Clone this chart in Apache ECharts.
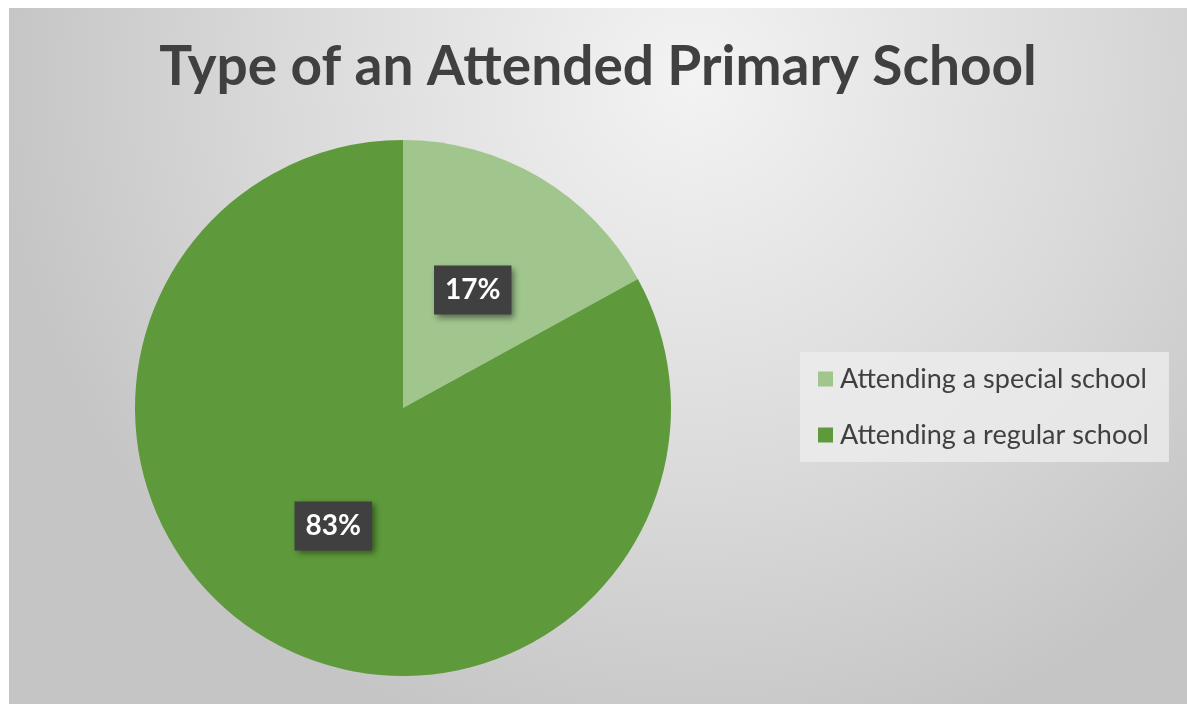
<!DOCTYPE html>
<html>
<head>
<meta charset="utf-8">
<script src="https://cdn.jsdelivr.net/npm/echarts@6/dist/echarts.min.js"></script>
<style>
html,body{margin:0;padding:0;background:#ffffff;width:1187px;height:704px;overflow:hidden;}
#chart{position:absolute;left:9px;top:8px;width:1178px;height:696px;}
</style>
</head>
<body>
<div id="chart"></div>
<script>
const titleText = "Type of an Attended Primary School";
const categories = ["Attending a special school", "Attending a regular school"];
const values = [17, 83];
const colors = ["#a1c68d", "#5e9a3b"];

const chart = echarts.init(document.getElementById('chart'));
chart.setOption({
  backgroundColor: {
    type: 'radial', x: 0.58, y: 0.1, r: 1.0,
    colorStops: [{offset: 0, color: '#f3f3f3'}, {offset: 0.6, color: '#d9d9d9'}, {offset: 1, color: '#c5c5c5'}]
  },
  title: {
    text: titleText,
    left: 'center',
    top: 27,
    textStyle: {fontFamily: 'Lato', fontWeight: 'bold', fontSize: 55, color: '#404040'}
  },
  legend: {
    orient: 'vertical',
    left: 791,
    top: 344,
    padding: [11, 20, 11, 18],
    backgroundColor: 'rgba(236,236,236,0.8)',
    itemWidth: 15,
    itemHeight: 15,
    itemGap: 24,
    icon: 'rect',
    textStyle: {fontFamily: 'Lato', fontSize: 27, color: '#404040', lineHeight: 32, padding: [0,0,0,2]},
    data: categories
  },
  series: [{
    type: 'pie',
    center: [394, 400],
    radius: [0, 268],
    startAngle: 90,
    clockwise: true,
    silent: true,
    label: {
      show: true,
      position: 'inside',
      formatter: '{c}%',
      fontFamily: 'Lato',
      fontWeight: 'bold',
      fontSize: 28,
      lineHeight: 28,
      color: '#ffffff',
      backgroundColor: '#404040',
      padding: [11, 11, 10, 11],
      shadowColor: 'rgba(0,0,0,0.45)',
      shadowBlur: 6,
      shadowOffsetX: 3,
      shadowOffsetY: 3
    },
    labelLine: {show: false},
    itemStyle: {borderWidth: 0},
    data: categories.map((c, i) => ({name: c, value: values[i], itemStyle: {color: colors[i]}}))
  }]
});
</script>
</body>
</html>
